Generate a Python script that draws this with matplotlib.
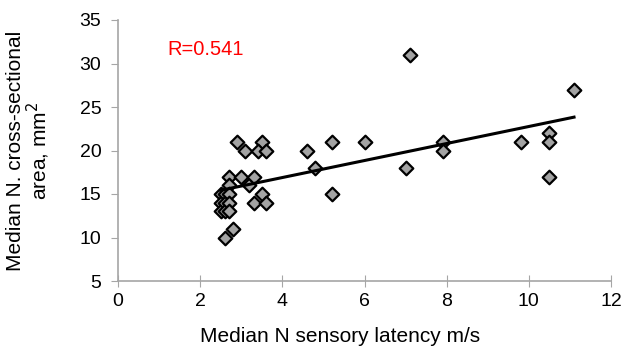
import matplotlib
matplotlib.use("Agg")
import matplotlib.pyplot as plt
import numpy as np

plt.rcParams['font.family'] = ['Liberation Sans', 'DejaVu Sans']

latency = [2.6, 2.8, 2.5, 2.5, 2.5, 2.6, 2.6, 2.6, 2.7, 2.7, 2.7, 2.7, 2.7,
           2.9, 3.1, 3.5, 3.4, 3.6,
           3.0, 3.2, 3.3, 3.5, 3.3, 3.6,
           4.6, 5.2, 6.0, 4.8, 5.2, 7.1, 7.0, 7.9, 7.9, 9.8, 10.5, 10.5, 10.5, 11.1]
area = [10, 11, 15, 14, 13, 15, 14, 13, 17, 16, 15, 14, 13,
        21, 20, 21, 20, 20,
        17, 16, 17, 15, 14, 14,
        20, 21, 21, 18, 15, 31, 18, 21, 20, 21, 22, 21, 17, 27]
r_label = "R=0.541"
x_ticks = [0, 2, 4, 6, 8, 10, 12]
y_ticks = [5, 10, 15, 20, 25, 30, 35]

W, H = 634, 348
L, R, T, B = 118, 611, 20, 281
fig = plt.figure(figsize=(W/100, H/100), dpi=100)
ax = fig.add_axes([L/W, 1-B/H, (R-L)/W, (B-T)/H])

x = np.array(latency)
y = np.array(area)
ax.scatter(x, y, marker='D', s=48, facecolor='#a3a3a3', edgecolor='black',
           linewidth=1.6, zorder=3)
m, b = np.polyfit(x, y, 1)
xs = np.array([x.min(), x.max()])
ax.plot(xs, m*xs + b, color='black', lw=2.2, zorder=4)

ax.set_xlim(0, 12)
ax.set_ylim(5, 35)
ax.set_xticks(x_ticks)
ax.set_yticks(y_ticks)
for s in ['top', 'right']:
    ax.spines[s].set_visible(False)
for s in ['left', 'bottom']:
    ax.spines[s].set_color('#a6a6a6')
    ax.spines[s].set_linewidth(1.2)
ax.tick_params(axis='x', direction='inout', length=8, color='#a6a6a6', labelsize=14, pad=5)
ax.tick_params(axis='y', direction='out', length=5, color='#a6a6a6', labelsize=14, pad=7)

ax.set_xlabel("Median N sensory latency m/s", fontsize=15)
ax.xaxis.set_label_coords((340-L)/(R-L), -(337-B)/(B-T))
ax.xaxis.label.set_va('center')
ax.set_ylabel("Median N. cross-sectional\narea, mm$^2$", fontsize=15, linespacing=1.0)
ax.yaxis.set_label_coords(-(L-52)/(R-L), 0.5)

ax.text(2.14, 31.6, r_label, color='red', fontsize=14.5, ha='center', va='center')

fig.savefig("out.png", dpi=100)
